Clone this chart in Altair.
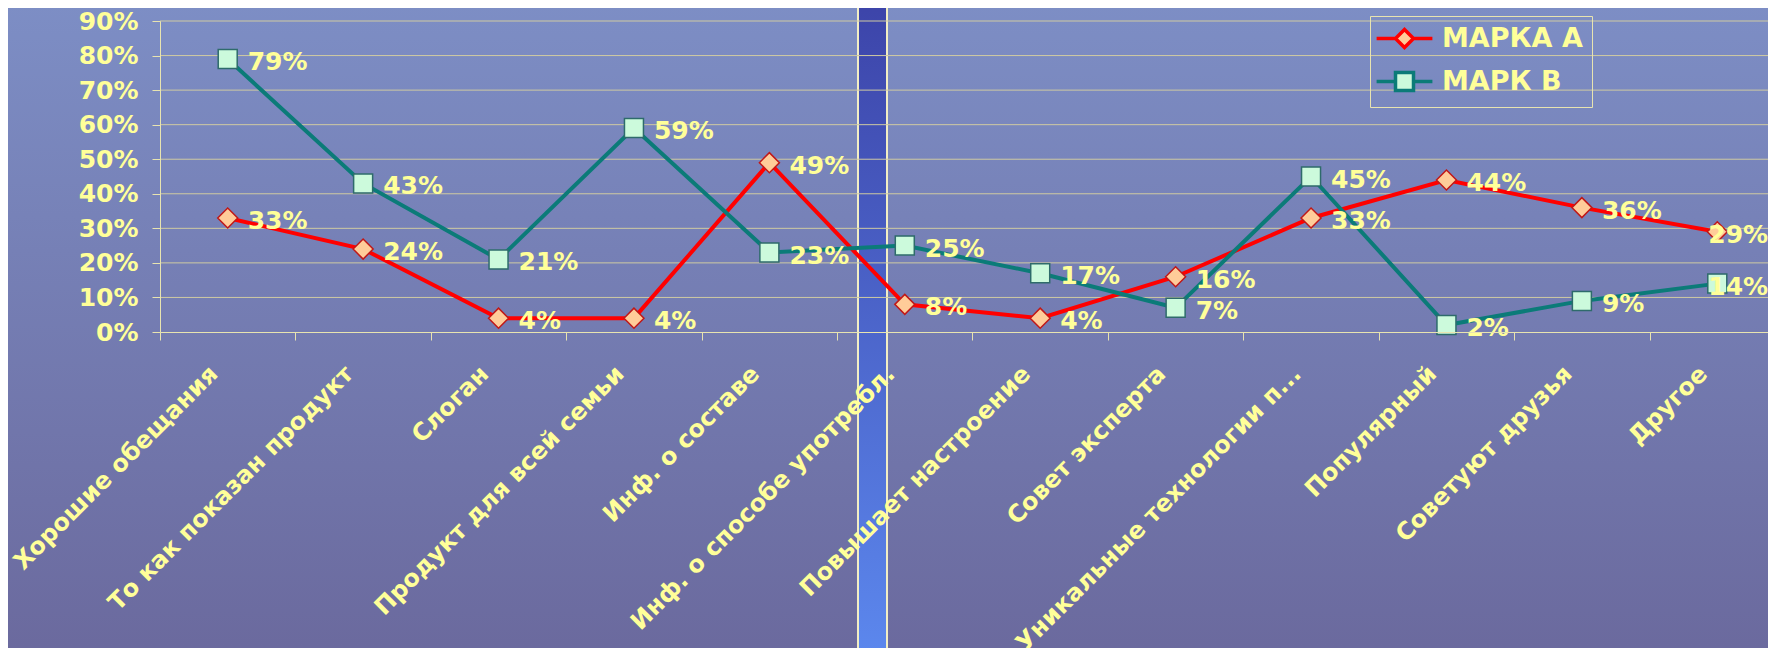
import altair as alt
import pandas as pd

categories = [
    "Хорошие обещания", "То как показан продукт", "Слоган", "Продукт для всей семьи",
    "Инф. о составе", "Инф. о способе употребл.", "Повышает настроение", "Совет эксперта",
    "Уникальные технологии п...", "Популярный", "Советуют друзья", "Другое",
]
series_names = ["МАРКА А", "МАРК В"]
marka_a = [33, 24, 4, 4, 49, 8, 4, 16, 33, 44, 36, 29]
mark_b = [79, 43, 21, 59, 23, 25, 17, 7, 45, 2, 9, 14]
y_ticks = [0, 10, 20, 30, 40, 50, 60, 70, 80, 90]

rows = []
for s, vals in zip(series_names, [marka_a, mark_b]):
    for c, v in zip(categories, vals):
        rows.append({"cat": c, "series": s, "v": v, "label": f"{v}%"})
df = pd.DataFrame(rows)
grid_df = pd.DataFrame({"g": y_ticks[1:]})
one = pd.DataFrame({"k": [0]})

W, H = 1625, 311
FONT = "DejaVu Sans"
TXT = "#ffff99"
CREAM = "#e8e4b0"
line_colors = ["#ff0000", "#0b7b78"]
fill_colors = ["#ffcc99", "#ccfadc"]
marker_strokes = ["#c01818", "#2e6b6b"]

xenc = alt.X(
    "cat:N", sort=categories, title=None,
    scale=alt.Scale(type="band", paddingInner=0, paddingOuter=0),
    axis=alt.Axis(
        labelAngle=-45, labelAlign="right", labelBaseline="middle",
        labelFont=FONT, labelFontSize=24, labelFontWeight="bold", labelColor=TXT,
        labelPadding=30, labelOffset=-14, labelLimit=1000, labelOverlap=False,
        tickBand="extent", tickSize=8, tickColor=CREAM, domainColor=CREAM,
        grid=False, zindex=1,
    ),
)
yscale = alt.Scale(domain=[0, 90], nice=False, zero=True)
yaxis = alt.Axis(
    values=y_ticks, labelExpr="datum.value + '%'", labelFont=FONT, labelFontSize=25,
    labelFontWeight="bold", labelColor=TXT, labelPadding=14, tickSize=8,
    tickColor=CREAM, domainColor=CREAM, grid=False, zindex=1,
)
yenc = alt.Y("v:Q", scale=yscale, axis=yaxis, title=None)

bg = alt.Chart(one).mark_rect(
    color=alt.Gradient(
        gradient="linear",
        stops=[alt.GradientStop(color="#7d8ec5", offset=0),
               alt.GradientStop(color="#6a689c", offset=1)],
        x1=0, x2=0, y1=0, y2=1,
    )
).encode(x=alt.value(-170), x2=alt.value(1700), y=alt.value(-20), y2=alt.value(660))

stripe = alt.Chart(one).mark_rect(
    color=alt.Gradient(
        gradient="linear",
        stops=[alt.GradientStop(color="#3c43a8", offset=0),
               alt.GradientStop(color="#5d8af0", offset=1)],
        x1=0, x2=0, y1=0, y2=1,
    ),
    stroke="#f2eec4", strokeWidth=2,
).encode(x=alt.value(698), x2=alt.value(727), y=alt.value(-30), y2=alt.value(660))

grid = alt.Chart(grid_df).mark_rule(color="#cfcaa2", strokeWidth=1).encode(
    y=alt.Y("g:Q", scale=yscale, axis=yaxis, title=None)
)

lines = alt.Chart(df).mark_line(strokeWidth=4).encode(
    x=xenc, y=yenc,
    color=alt.Color("series:N", scale=alt.Scale(domain=series_names, range=line_colors), legend=None),
)

points = alt.Chart(df).mark_point(filled=False, opacity=1, fillOpacity=1, strokeWidth=1.5).encode(
    x=xenc, y=yenc,
    shape=alt.Shape("series:N", scale=alt.Scale(domain=series_names, range=["diamond", "square"]), legend=None),
    fill=alt.Fill("series:N", scale=alt.Scale(domain=series_names, range=fill_colors), legend=None),
    stroke=alt.Stroke("series:N", scale=alt.Scale(domain=series_names, range=marker_strokes), legend=None),
    size=alt.Size("series:N", scale=alt.Scale(domain=series_names, range=[400, 361]), legend=None),
)

labels = alt.Chart(df).transform_filter(alt.datum.cat != categories[-1]).mark_text(
    align="left", baseline="middle", dx=20, dy=3, font=FONT, fontSize=25, fontWeight="bold", color=TXT,
).encode(x=xenc, y=yenc, text="label:N")

labels_last = alt.Chart(df).transform_filter(alt.datum.cat == categories[-1]).mark_text(
    align="left", baseline="middle", dx=-9, dy=3, font=FONT, fontSize=25, fontWeight="bold", color=TXT,
).encode(x=xenc, y=yenc, text="label:N")

pathA = "M-3.1,0L-1,0M1,0L3.1,0M0,-1L1,0L0,1L-1,0Z"
pathB = "M-3.1,0L-1,0M1,0L3.1,0M-1,-1L1,-1L1,1L-1,1Z"
leg = alt.Legend(
    title=None, orient="none", legendX=1210, legendY=-5,
    labelFont=FONT, labelFontSize=27, labelFontWeight="bold", labelColor=TXT,
    symbolSize=324, symbolStrokeWidth=3.5, strokeColor=CREAM, padding=9,
    rowPadding=10, labelOffset=24, symbolOffset=12,
)
legend_layer = alt.Chart(df).transform_filter("false").mark_point(
    filled=False, opacity=1, fillOpacity=1, strokeWidth=3.5
).encode(
    x=xenc, y=yenc,
    shape=alt.Shape("series:N", scale=alt.Scale(domain=series_names, range=[pathA, pathB]), legend=leg),
    fill=alt.Fill("series:N", scale=alt.Scale(domain=series_names, range=fill_colors), legend=leg),
    stroke=alt.Stroke("series:N", scale=alt.Scale(domain=series_names, range=line_colors), legend=leg),
)

chart = alt.layer(bg, stripe, grid, lines, points, labels, labels_last, legend_layer).resolve_scale(
    shape="independent", fill="independent", stroke="independent", size="independent"
).properties(
    width=W, height=H,
    padding={"left": 152, "top": 13, "right": -17, "bottom": 316},
    autosize=alt.AutoSizeParams(type="none"),
).configure_view(stroke=None).configure(background="#7378ae")

chart.save("out.html", embed_options={"renderer": "svg", "actions": False})
